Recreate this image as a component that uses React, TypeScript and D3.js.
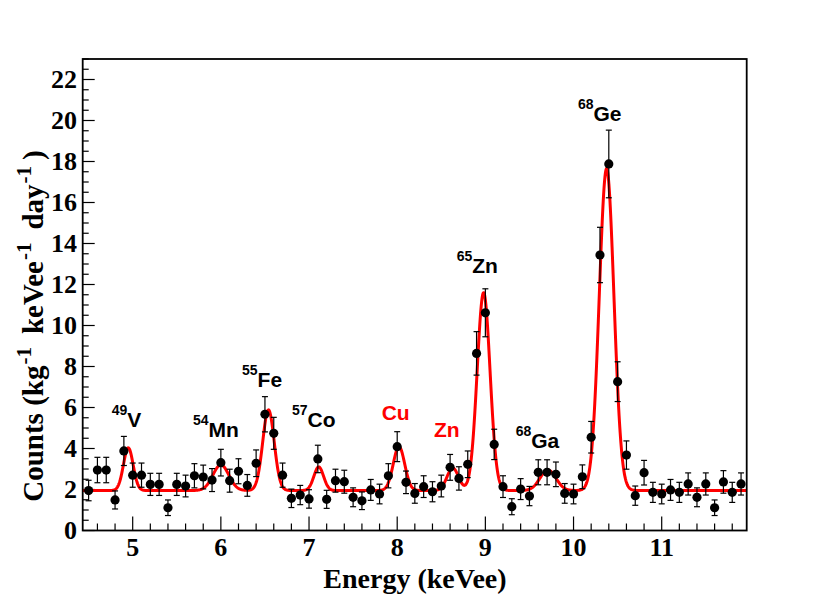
import * as d3 from 'd3';

// measured spectrum (bin centres, keVee)
const ENERGY = d3.range(45, 120).map(i => i / 10);
const COUNTS = [
  1.95, 2.95, 2.95, 1.49, 3.88, 2.70, 2.70, 2.25, 2.25, 1.11,
  2.25, 2.17, 2.67, 2.61, 2.46, 3.31, 2.43, 2.89, 2.20, 3.28,
  5.67, 4.74, 2.70, 1.57, 1.73, 1.54, 3.49, 1.52, 2.43, 2.38,
  1.62, 1.45, 1.98, 1.78, 2.67, 4.09, 2.35, 1.81, 2.14, 1.89,
  2.17, 3.08, 2.54, 3.23, 8.64, 10.62, 4.20, 2.14, 1.16, 2.02,
  1.68, 2.84, 2.84, 2.74, 1.81, 1.78, 2.62, 4.55, 13.44, 17.88,
  7.26, 3.68, 1.70, 2.82, 1.86, 1.78, 1.98, 1.86, 2.27, 1.62,
  2.27, 1.11, 2.37, 1.86, 2.27,
];
const ERRORS = [
  0.50, 0.62, 0.62, 0.44, 0.71, 0.59, 0.59, 0.54, 0.54, 0.38,
  0.54, 0.53, 0.59, 0.58, 0.56, 0.65, 0.56, 0.61, 0.53, 0.65,
  0.86, 0.78, 0.59, 0.45, 0.47, 0.45, 0.67, 0.44, 0.56, 0.56,
  0.46, 0.43, 0.51, 0.48, 0.59, 0.73, 0.55, 0.48, 0.53, 0.49,
  0.53, 0.63, 0.57, 0.65, 1.06, 1.17, 0.74, 0.53, 0.39, 0.51,
  0.47, 0.61, 0.61, 0.60, 0.48, 0.48, 0.58, 0.77, 1.35, 1.65,
  0.97, 0.69, 0.47, 0.60, 0.49, 0.48, 0.51, 0.49, 0.54, 0.46,
  0.54, 0.38, 0.55, 0.49, 0.54,
];

// fit: flat background + gaussian lines
const BACKGROUND = 1.95;
const PEAK_E = [4.95, 6.0, 6.54, 7.11, 8.02, 8.63, 8.98, 9.71, 10.375];
const PEAK_AMP = [2.08, 1.25, 3.93, 1.15, 2.14, 1.1, 9.65, 1.0, 15.7];
const PEAK_SIGMA = [0.055, 0.09, 0.065, 0.055, 0.065, 0.065, 0.073, 0.09, 0.083];

// peak labels: superscript, name, left edge (keVee), baseline (counts), colour
const LABEL_SUP = ['49', '54', '55', '57', '', '', '65', '68', '68'];
const LABEL_NAME = ['V', 'Mn', 'Fe', 'Co', 'Cu', 'Zn', 'Zn', 'Ga', 'Ge'];
const LABEL_E = [4.762, 5.684, 6.24, 6.807, 7.824, 8.417, 8.675, 9.344, 10.05];
const LABEL_Y = [5.06, 4.58, 7.0, 5.06, 5.39, 4.55, 12.55, 4.01, 19.99];
const LABEL_RED = [false, false, false, false, true, true, false, false, false];

const X_TICKS = [5, 6, 7, 8, 9, 10, 11];
const Y_TICKS = d3.range(0, 23, 2);

const W = 830;
const H = 596;
const LEFT = 82.7;
const RIGHT = 746.7;
const TOP = 59;
const BOTTOM = 530.5;

const SERIF = '"Liberation Serif", "Times New Roman", serif';
const SANS = '"Liberation Sans", Arial, sans-serif';

function fit(e: number) {
  let v = BACKGROUND;
  PEAK_E.forEach((c, i) => {
    const d = (e - c) / PEAK_SIGMA[i];
    v += PEAK_AMP[i] * Math.exp(-0.5 * d * d);
  });
  return v;
}

export default function App() {
  const x = d3.scaleLinear().domain([4.433, 11.964]).range([LEFT, RIGHT]);
  const y = d3.scaleLinear().domain([0, 23]).range([BOTTOM, TOP]);

  const xMinor = d3.range(23, 60).map(i => i / 5).filter(v => v > 4.433 && v < 11.964 && !Number.isInteger(v));
  const yMinor = d3.range(0, 47).map(i => i / 2).filter(v => v % 2 !== 0);

  const curveE = d3.range(4.433, 11.964, 0.004);
  const line = d3.line<number>().x(e => x(e)).y(e => y(fit(e)));

  return (
    <svg width={W} height={H} style={{ position: 'absolute', left: 0, top: 0, background: '#fff' }}>
      <defs>
        <clipPath id="plot">
          <rect x={LEFT} y={TOP} width={RIGHT - LEFT} height={BOTTOM - TOP} />
        </clipPath>
      </defs>

      {/* ticks */}
      <g stroke="#000" strokeWidth={1.2}>
        {X_TICKS.map(t => <line key={'xm' + t} x1={x(t)} x2={x(t)} y1={BOTTOM} y2={BOTTOM - 14} />)}
        {xMinor.map(t => <line key={'xn' + t} x1={x(t)} x2={x(t)} y1={BOTTOM} y2={BOTTOM - 7} />)}
        {Y_TICKS.map(t => <line key={'ym' + t} x1={LEFT} x2={LEFT + 12} y1={y(t)} y2={y(t)} />)}
        {yMinor.map(t => <line key={'yn' + t} x1={LEFT} x2={LEFT + 6} y1={y(t)} y2={y(t)} />)}
      </g>

      {/* fit curve */}
      <path d={line(curveE) ?? ''} fill="none" stroke="#ff0000" strokeWidth={3} clipPath="url(#plot)" />

      {/* data */}
      <g stroke="#000" strokeWidth={1.2}>
        {ENERGY.map((e, i) => {
          const cx = x(e);
          const lo = y(COUNTS[i] - ERRORS[i]);
          const hi = y(COUNTS[i] + ERRORS[i]);
          return (
            <g key={i}>
              <line x1={cx} x2={cx} y1={lo} y2={hi} />
              <line x1={cx - 3} x2={cx + 3} y1={lo} y2={lo} />
              <line x1={cx - 3} x2={cx + 3} y1={hi} y2={hi} />
            </g>
          );
        })}
      </g>
      <g fill="#000">
        {ENERGY.map((e, i) => <circle key={i} cx={x(e)} cy={y(COUNTS[i])} r={4.6} />)}
      </g>

      {/* peak labels */}
      <g fontFamily={SANS} fontWeight="bold">
        {LABEL_NAME.map((n, i) => (
          <text key={i} x={x(LABEL_E[i])} y={y(LABEL_Y[i])} fill={LABEL_RED[i] ? '#ff0000' : '#000'} fontSize={21}>
            {LABEL_SUP[i] && <tspan fontSize={14} dy={-12}>{LABEL_SUP[i]}</tspan>}
            <tspan dy={LABEL_SUP[i] ? 12 : 0}>{n}</tspan>
          </text>
        ))}
      </g>

      {/* frame */}
      <rect x={LEFT} y={TOP} width={RIGHT - LEFT} height={BOTTOM - TOP} fill="none" stroke="#000" strokeWidth={1.8} />

      {/* tick labels */}
      <g fontFamily={SERIF} fontWeight="bold" fontSize={26} fill="#000">
        {X_TICKS.map(t => (
          <text key={t} x={x(t)} y={556} textAnchor="middle">{t}</text>
        ))}
        {Y_TICKS.map(t => (
          <text key={t} x={77} y={y(t)} dy="0.34em" textAnchor="end">{t}</text>
        ))}
      </g>

      {/* axis titles */}
      <text x={415} y={588} textAnchor="middle" fontFamily={SERIF} fontWeight="bold" fontSize={28}>
        Energy (keVee)
      </text>
      <text transform="translate(43,326) rotate(-90)" textAnchor="middle" fontFamily={SERIF} fontWeight="bold" fontSize={29}>
        Counts (kg<tspan fontSize={21} dx={1} dy={-12}>-1</tspan>
        <tspan dx={13} dy={12}>keVee</tspan><tspan fontSize={21} dx={1} dy={-12}>-1</tspan>
        <tspan dx={13} dy={12}>day</tspan><tspan fontSize={21} dx={1} dy={-12}>-1</tspan>
        <tspan dx={6} dy={12}>)</tspan>
      </text>
    </svg>
  );
}
